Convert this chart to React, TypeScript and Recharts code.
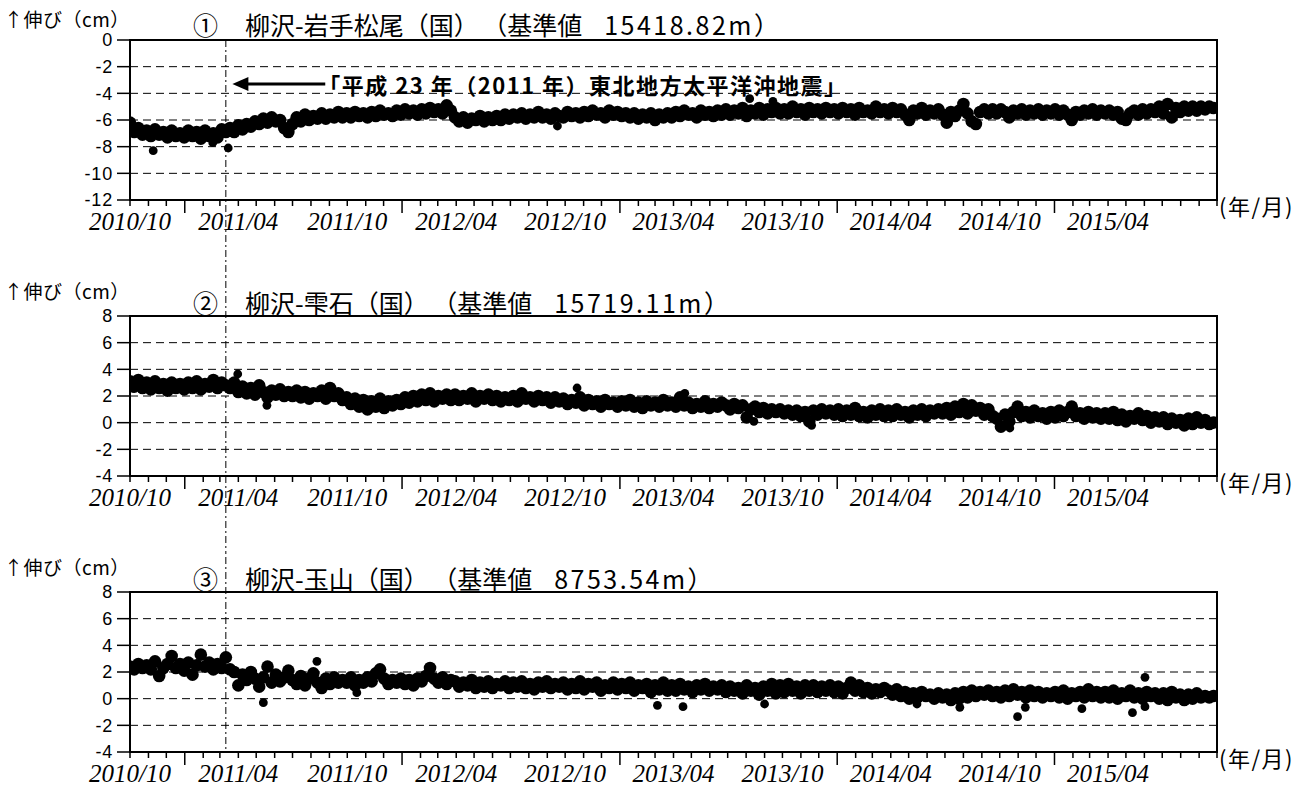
import React from "react";
import {
  CartesianGrid,
  ReferenceArea,
  ReferenceLine,
  Scatter,
  ScatterChart,
  XAxis,
  YAxis,
} from "recharts";

// time axis: days counted from 2010/10/01, one point per week
const DAY_MS = 86400000;
const START = Date.UTC(2010, 9, 1);
const END_DAY = (Date.UTC(2015, 9, 1) - START) / DAY_MS;
const QUAKE_DAY = (Date.UTC(2011, 2, 11) - START) / DAY_MS;
const STEP_DAYS = 7;

const MONTH_TICKS = Array.from({ length: 61 }, (_, m) => (Date.UTC(2010, 9 + m, 1) - START) / DAY_MS);
const TICK_LABELS = [
  "2010/10", "2011/04", "2011/10", "2012/04", "2012/10",
  "2013/04", "2013/10", "2014/04", "2014/10", "2015/04",
];

const TICKS_1 = [0, -2, -4, -6, -8, -10, -12];
const TICKS_23 = [8, 6, 4, 2, 0, -2, -4];

// ① 柳沢-岩手松尾, weekly values (cm), one row per quarter
const matsuo = [
  -6.2, -6.9, -6.6, -7.1, -6.8, -7.2, -6.7, -7.1, -6.9, -7.3, -6.8, -7.2, -7.0,
  -7.3, -6.8, -7.2, -6.9, -7.4, -6.8, -7.2, -7.0, -7.3, -6.7, -6.9, -6.6, -6.9,
  -6.4, -6.7, -6.3, -6.5, -6.1, -6.3, -5.9, -6.2, -5.8, -6.1, -6.0, -6.6, -6.9,
  -6.3, -5.8, -6.1, -5.6, -6.0, -5.7, -5.9, -5.5, -5.9, -5.6, -5.8, -5.4, -5.8,
  -5.5, -5.8, -5.4, -5.7, -5.5, -5.8, -5.4, -5.7, -5.3, -5.6, -5.5, -5.7, -5.3,
  -5.6, -5.2, -5.5, -5.3, -5.6, -5.2, -5.5, -5.1, -5.4, -5.2, -5.5, -4.9, -5.3,
  -5.8, -6.1, -5.8, -6.2, -5.9, -6.0, -5.7, -6.1, -5.8, -6.0, -5.7, -6.0, -5.6,
  -5.9, -5.6, -5.8, -5.5, -5.9, -5.6, -5.8, -5.4, -5.8, -5.6, -5.9, -5.5, -5.7,
  -5.8, -5.4, -5.7, -5.5, -5.8, -5.4, -5.7, -5.3, -5.6, -5.5, -5.8, -5.3, -5.6,
  -5.4, -5.7, -5.5, -5.8, -5.5, -5.9, -5.6, -5.8, -5.5, -6.0, -5.6, -5.8, -5.5,
  -5.8, -5.4, -5.7, -5.3, -5.6, -5.5, -5.8, -5.3, -5.6, -5.4, -5.7, -5.3, -5.6,
  -5.2, -5.6, -5.3, -5.5, -5.1, -5.7, -5.3, -5.5, -5.1, -5.6, -5.2, -5.4, -5.1,
  -5.5, -5.2, -5.5, -5.0, -5.4, -5.2, -5.6, -5.1, -5.4, -5.2, -5.5, -5.1, -5.4,
  -5.2, -5.5, -5.1, -5.4, -5.2, -5.6, -5.1, -5.4, -5.3, -5.5, -5.0, -5.4, -5.2,
  -5.5, -5.1, -5.4, -5.2, -5.6, -6.0, -5.3, -5.5, -5.1, -5.6, -5.3, -5.5, -5.2,
  -5.6, -6.2, -5.4, -5.7, -5.3, -4.8, -5.5, -6.1, -6.3, -5.4, -5.2, -5.5, -5.2,
  -5.5, -5.2, -5.4, -5.8, -5.3, -5.5, -5.2, -5.6, -5.3, -5.5, -5.2, -5.6, -5.3,
  -5.5, -5.2, -5.6, -5.3, -5.6, -6.0, -5.4, -5.6, -5.3, -5.5, -5.2, -5.6, -5.3,
  -5.5, -5.3, -5.6, -5.4, -5.9, -6.0, -5.5, -5.3, -5.6, -5.2, -5.5, -5.2, -5.4,
  -5.0, -5.5, -4.8, -5.8, -5.1, -5.4, -5.0, -5.3, -5.0, -5.3, -5.0, -5.2, -5.0,
  -5.1,
];
// [day, cm]
const matsuoOutliers = [[39, -8.3], [139, -7.7], [165, -8.1], [718, -6.45], [1041, -4.4], [1080, -4.6]];

// ② 柳沢-雫石
const shizukuishi = [
  3.1, 2.7, 3.2, 2.6, 3.0, 2.5, 3.1, 2.6, 2.9, 2.4, 3.0, 2.6, 2.9,
  2.5, 3.0, 2.6, 3.1, 2.5, 2.9, 2.7, 3.2, 2.6, 3.0, 2.8, 2.6, 3.0,
  2.3, 2.7, 2.2, 2.6, 2.1, 2.8, 2.3, 1.9, 2.4, 2.1, 2.5, 2.0, 2.3,
  2.0, 2.4, 1.9, 2.3, 1.8, 2.2, 2.0, 2.4, 1.8, 2.6, 2.0, 2.2, 1.7,
  1.9, 1.4, 1.8, 1.2, 1.7, 1.0, 1.6, 1.2, 1.8, 1.1, 1.6, 1.3, 1.7,
  1.4, 1.9, 1.5, 2.0, 1.6, 2.1, 1.7, 2.2, 1.6, 2.0, 1.8, 2.1, 1.7,
  2.1, 1.7, 2.0, 1.8, 2.2, 1.6, 2.0, 1.8, 2.1, 1.7, 2.0, 1.6, 1.9,
  1.7, 2.0, 1.6, 2.2, 1.8, 1.9, 1.6, 2.0, 1.7, 1.9, 1.5, 1.9, 1.6,
  1.8, 1.4, 1.7, 1.5, 1.9, 1.3, 1.7, 1.4, 1.6, 1.2, 1.7, 1.4, 1.5,
  1.2, 1.6, 1.3, 1.7, 1.2, 1.5, 1.1, 1.6, 1.3, 1.5, 1.2, 1.7, 1.3,
  1.5, 1.2, 1.9, 1.3, 1.5, 1.1, 1.4, 1.2, 1.6, 1.1, 1.4, 1.2, 1.5,
  1.3, 1.0, 1.4, 1.1, 1.3, 0.4, 1.0, 1.2, 0.8, 1.1, 0.7, 1.0, 0.8,
  1.0, 0.7, 0.9, 0.6, 0.9, 0.5, 0.8, 0.1, 0.9, 0.6, 1.0, 0.7, 0.9,
  0.6, 1.0, 0.5, 0.9, 0.6, 1.1, 0.5, 0.8, 0.4, 0.9, 0.6, 1.0, 0.5,
  0.9, 0.5, 1.0, 0.6, 0.8, 0.4, 0.9, 0.6, 1.0, 0.5, 0.9, 0.7, 1.0,
  0.7, 1.1, 0.6, 1.2, 0.8, 1.4, 0.7, 1.3, 0.9, 1.1, 0.6, 1.0, 0.5,
  0.3, -0.3, 0.6, 0.1, 0.8, 1.2, 0.5, 0.8, 0.4, 0.9, 0.5, 0.7, 0.3,
  0.8, 0.4, 0.9, 0.5, 0.8, 1.2, 0.5, 0.7, 0.3, 0.8, 0.4, 0.7, 0.3,
  0.7, 0.3, 0.8, 0.2, 0.6, 0.1, 0.5, 0.3, 0.7, 0.2, 0.5, 0.0, 0.4,
  0.1, 0.4, -0.1, 0.3, 0.0, 0.2, -0.2, 0.3, -0.1, 0.4, 0.0, 0.2, -0.1,
  0.0,
];
const shizukuishiOutliers = [[181, 3.65], [230, 1.3], [751, 2.6], [932, 2.2], [1048, 0.1], [1145, -0.2], [1478, -0.4]];

// ③ 柳沢-玉山
const tamayama = [
  2.4, 2.2, 2.6, 2.3, 2.5, 2.2, 2.8, 1.7, 2.3, 2.6, 3.2, 2.3, 2.6,
  2.1, 2.7, 1.8, 2.5, 3.3, 2.4, 2.7, 2.2, 2.6, 2.3, 3.1, 2.2, 2.0,
  1.0, 1.8, 1.4, 2.0, 1.5, 0.9, 1.6, 2.4, 1.2, 1.8, 1.3, 1.6, 2.1,
  1.4, 1.1, 1.7, 1.0, 1.5, 1.9, 1.2, 0.8, 1.5, 1.1, 1.6, 1.2, 1.4,
  1.2, 1.6, 1.0, 1.4, 1.2, 1.6, 1.3, 1.9, 2.2, 1.5, 1.1, 1.4, 1.2,
  1.5, 1.1, 1.4, 1.0, 1.5, 1.3, 1.7, 2.3, 1.5, 1.2, 1.6, 1.1, 1.4,
  1.3, 0.9, 1.2, 1.0, 1.4, 0.8, 1.2, 0.9, 1.3, 0.8, 1.1, 1.0, 1.3,
  0.8, 1.2, 0.9, 1.3, 0.8, 1.1, 0.7, 1.2, 0.9, 1.3, 0.8, 1.1, 0.9,
  1.2, 0.7, 1.1, 0.8, 1.3, 0.7, 1.1, 0.9, 1.2, 0.6, 1.0, 0.8, 1.2,
  0.7, 1.1, 0.8, 1.2, 0.6, 1.0, 0.8, 1.1, 0.5, 1.0, 0.7, 1.2, 0.6,
  1.0, 0.6, 1.1, 0.7, 0.9, 0.5, 1.0, 0.7, 1.1, 0.6, 0.9, 0.7, 1.0,
  0.5, 0.9, 0.6, 0.8, 0.4, 1.0, 0.6, 0.8, 0.3, 0.9, 0.6, 1.1, 0.4,
  1.0, 0.5, 1.1, 0.6, 0.9, 0.4, 1.0, 0.6, 1.0, 0.5, 0.9, 0.6, 1.0,
  0.5, 0.9, 0.4, 0.8, 1.2, 0.6, 1.0, 0.5, 0.8, 0.4, 0.7, 0.5, 0.8,
  0.6, 0.3, 0.7, 0.2, 0.5, 0.0, 0.4, 0.1, 0.5, 0.2, 0.3, 0.0, 0.4,
  0.1, 0.3, -0.1, 0.4, 0.0, 0.5, 0.1, 0.6, 0.2, 0.5, 0.3, 0.6, 0.2,
  0.5, 0.1, 0.6, 0.2, 0.7, 0.3, 0.5, 0.1, 0.6, 0.2, 0.5, 0.1, 0.4,
  0.2, 0.5, 0.1, 0.6, 0.0, 0.4, 0.2, 0.5, 0.1, 0.7, 0.2, 0.5, 0.1,
  0.5, 0.1, 0.6, 0.0, 0.4, 0.2, 0.6, 0.1, 0.4, 0.0, 0.5, 0.2, 0.4,
  0.0, 0.4, -0.1, 0.5, 0.1, 0.3, -0.1, 0.3, 0.0, 0.4, 0.1, 0.2, 0.1,
  0.2,
];
const tamayamaOutliers = [
  [224, -0.3], [314, 2.8], [381, 0.45], [886, -0.5], [929, -0.6], [1066, -0.4], [1322, -0.4],
  [1394, -0.65], [1491, -1.35], [1504, -0.65], [1599, -0.75], [1684, -1.05], [1705, -0.6], [1705, 1.6],
];

const toPoints = (vals: number[]) => vals.map((value, i) => ({ day: i * STEP_DAYS, value }));
const toOutliers = (pairs: number[][]) => pairs.map(([day, value]) => ({ day, value }));

const PANELS = [
  { mark: "①", name: "柳沢-岩手松尾（国）", base: "15418.82m", values: matsuo, outliers: matsuoOutliers, domain: [-12, 0], ticks: TICKS_1, quake: [0, -30], arrow: true },
  { mark: "②", name: "柳沢-雫石（国）", base: "15719.11m", values: shizukuishi, outliers: shizukuishiOutliers, domain: [-4, 8], ticks: TICKS_23, quake: [14, -30], arrow: false },
  { mark: "③", name: "柳沢-玉山（国）", base: "8753.54m", values: tamayama, outliers: tamayamaOutliers, domain: [-4, 8], ticks: TICKS_23, quake: [14, -4], arrow: false },
];

const PANEL_H = 276;
const CJK = "'Noto Sans CJK JP', sans-serif";

const BandDot = (p: any) => <circle cx={p.cx} cy={p.cy} r={6.3} fill="#000" />;
const OutlierDot = (p: any) => <circle cx={p.cx} cy={p.cy} r={4.4} fill="#000" />;

function MonthTick(props: any) {
  const { x, y, payload } = props;
  const m = MONTH_TICKS.indexOf(payload.value);
  const isJan = (9 + m) % 12 === 0;
  const label = m % 6 === 0 && m < 60 ? TICK_LABELS[m / 6] : null;
  return (
    <g>
      <line x1={x} x2={x} y1={y} y2={y + (isJan ? 13 : 6)} stroke="#000" strokeWidth={1.5} />
      {label && (
        <text x={x} y={y + 30} textAnchor="middle" fontFamily="'Liberation Serif', serif" fontStyle="italic" fontSize={25} fill="#000">
          {label}
        </text>
      )}
    </g>
  );
}

function QuakeArrow(props: any) {
  const { x1, y1, x2 } = props;
  return (
    <g>
      <line x1={x1} y1={y1} x2={x2 + 14} y2={y1} stroke="#000" strokeWidth={3} />
      <polygon points={`${x2},${y1} ${x2 + 16},${y1 - 7} ${x2 + 16},${y1 + 7}`} fill="#000" />
      <text x={x1 - 7} y={y1} dominantBaseline="central" fontFamily={CJK} fontWeight="bold" fontSize={22} letterSpacing={1.5} fill="#000">
        「平成 23 年（2011 年）東北地方太平洋沖地震」
      </text>
    </g>
  );
}

function Panel({ cfg, index }: { cfg: (typeof PANELS)[number]; index: number }) {
  const top = index * PANEL_H;
  const [lo, hi] = cfg.domain;
  return (
    <div style={{ position: "absolute", left: 0, top, width: 1306, height: PANEL_H }}>
      <ScatterChart width={1306} height={PANEL_H} margin={{ top: 40, right: 89, bottom: 0, left: 0 }}>
        <CartesianGrid vertical={false} stroke="#000" strokeDasharray="8 5" />
        <XAxis
          type="number"
          dataKey="day"
          domain={[0, END_DAY]}
          ticks={MONTH_TICKS}
          interval={0}
          tick={<MonthTick />}
          tickLine={false}
          tickSize={0}
          tickMargin={0}
          axisLine={{ stroke: "#000", strokeWidth: 2 }}
          height={76}
          allowDataOverflow
        />
        <YAxis
          type="number"
          dataKey="value"
          domain={cfg.domain}
          ticks={cfg.ticks}
          interval={0}
          width={130}
          tickSize={13}
          tickMargin={4}
          tickLine={{ stroke: "#000", strokeWidth: 1.5 }}
          axisLine={{ stroke: "#000", strokeWidth: 2 }}
          tick={{ fill: "#000", fontSize: 18, letterSpacing: 0.8, fontFamily: "'Liberation Sans', Arial, sans-serif" }}
          allowDataOverflow
        />
        <ReferenceArea x1={0} x2={END_DAY} y1={lo} y2={hi} fill="none" fillOpacity={0} stroke="#000" strokeWidth={2} ifOverflow="visible" />
        <ReferenceLine
          segment={[{ x: QUAKE_DAY, y: cfg.quake[0] }, { x: QUAKE_DAY, y: cfg.quake[1] }]}
          stroke="#000"
          strokeWidth={1}
          strokeDasharray="7 3 2 3"
          ifOverflow="visible"
        />
        {cfg.arrow && (
          <ReferenceLine
            segment={[{ x: 328, y: -3.3 }, { x: 172, y: -3.3 }]}
            ifOverflow="visible"
            shape={<QuakeArrow />}
          />
        )}
        <Scatter data={toPoints(cfg.values)} shape={BandDot} isAnimationActive={false} />
        <Scatter data={toOutliers(cfg.outliers)} shape={OutlierDot} isAnimationActive={false} />
      </ScatterChart>
      <div style={{ position: "absolute", left: 4, top: index === 0 ? 9 : 5, fontFamily: CJK, fontSize: 19, letterSpacing: 0.5, lineHeight: 1, whiteSpace: "pre" }}>
        ↑伸び（cm）
      </div>
      <div style={{ position: "absolute", left: 193, top: index === 0 ? 12 : 14, fontFamily: CJK, fontSize: 25, lineHeight: 1, whiteSpace: "pre" }}>
        <span>{cfg.mark}</span>
        <span style={{ marginLeft: 27 }}>{cfg.name}</span>
        <span style={{ marginLeft: 16 }}>（基準値</span>
        <span style={{ marginLeft: 22, letterSpacing: 2.5 }}>{cfg.base}</span>
        <span>）</span>
      </div>
      <div style={{ position: "absolute", left: 1219, top: 194, fontFamily: CJK, fontSize: 22, letterSpacing: 1.5, lineHeight: 1, whiteSpace: "pre" }}>
        (年/月)
      </div>
    </div>
  );
}

export default function App() {
  return (
    <div style={{ position: "absolute", left: 0, top: 0, width: 1306, height: 789, overflow: "hidden", background: "#fff" }}>
      {PANELS.map((cfg, i) => (
        <Panel key={i} cfg={cfg} index={i} />
      ))}
    </div>
  );
}
